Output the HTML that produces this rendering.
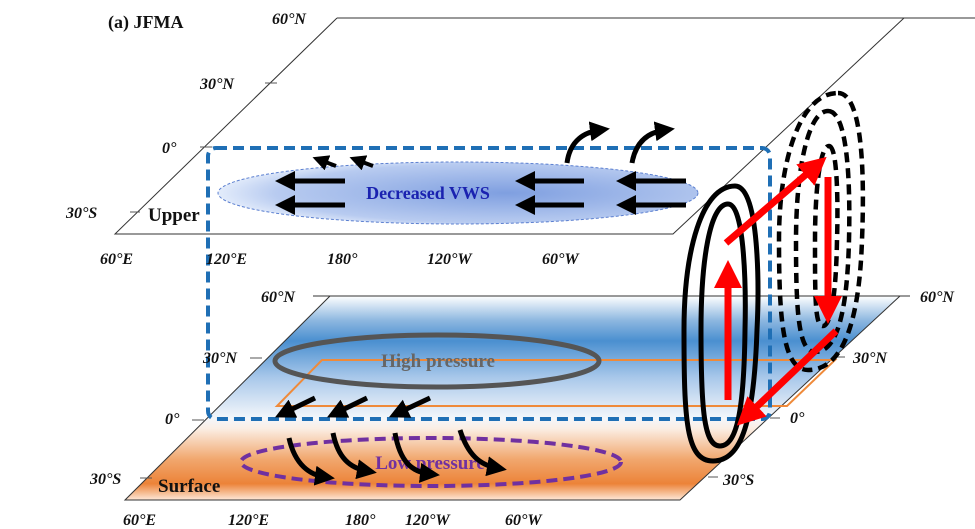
<!DOCTYPE html>
<html><head><meta charset="utf-8"><style>
html,body{margin:0;padding:0;background:#fff}
svg{display:block}
.lab{font-family:"Liberation Serif",serif;font-style:italic;font-weight:bold;font-size:16px;fill:#111}
</style></head><body>
<svg width="975" height="529" viewBox="0 0 975 529" xmlns="http://www.w3.org/2000/svg">
<defs>
<linearGradient id="surf" x1="0" y1="296" x2="0" y2="500" gradientUnits="userSpaceOnUse">
<stop offset="0" stop-color="#ffffff"/>
<stop offset="0.12" stop-color="#8db7e0"/>
<stop offset="0.22" stop-color="#4a8fd0"/>
<stop offset="0.4" stop-color="#a9c8ea"/>
<stop offset="0.6" stop-color="#f4f7fb"/>
<stop offset="0.65" stop-color="#fbeee4"/>
<stop offset="0.8" stop-color="#f1a76e"/>
<stop offset="0.92" stop-color="#ec8338"/>
<stop offset="1" stop-color="#fde8d8"/>
</linearGradient>
<radialGradient id="vws" cx="0.6" cy="0.5" r="0.6">
<stop offset="0" stop-color="#7f9fe0"/>
<stop offset="0.8" stop-color="#b8cbf0"/>
<stop offset="1" stop-color="#e3ecfb"/>
</radialGradient>
<marker id="ah" markerWidth="4" markerHeight="4" refX="2" refY="2" orient="auto"><path d="M0,0 L4,2 L0,4 Z" fill="#000"/></marker>
<marker id="rh" markerWidth="4" markerHeight="4" refX="2" refY="2" orient="auto"><path d="M0,0 L4,2 L0,4 Z" fill="#f00"/></marker>
</defs>

<!-- upper plane -->
<path d="M337,18 H975 M337,18 L115,234 H673 L904,18" fill="none" stroke="#333" stroke-width="1"/>
<g stroke="#555" stroke-width="1">
<line x1="130" y1="212" x2="140" y2="212"/><line x1="200" y1="147" x2="212" y2="147"/><line x1="265" y1="83" x2="277" y2="83"/>
</g>
<ellipse cx="458" cy="193" rx="240" ry="31" fill="url(#vws)" stroke="#5b7fd0" stroke-width="1" stroke-dasharray="3,2"/>

<!-- surface plane -->
<path d="M330,296 H900 L680,500 H125 Z" fill="url(#surf)"/>
<path d="M313,296 H910 M330,296 L125,500 H680 L900,296" fill="none" stroke="#333" stroke-width="1"/>
<g stroke="#555" stroke-width="1">
<line x1="250" y1="358" x2="262" y2="358"/><line x1="192" y1="420" x2="204" y2="420"/><line x1="140" y1="478" x2="152" y2="478"/>
<line x1="845" y1="357" x2="835" y2="357"/><line x1="780" y1="418" x2="770" y2="418"/><line x1="718" y1="477" x2="708" y2="477"/>
</g>

<!-- orange parallelogram -->
<path d="M322,360 H835 L787,406 H277 Z" fill="none" stroke="#ef8a3a" stroke-width="2"/>

<!-- high pressure -->
<ellipse cx="437" cy="361" rx="162" ry="26" fill="none" stroke="#555" stroke-width="5"/>
<text x="438" y="367" text-anchor="middle" font-family="Liberation Serif,serif" font-weight="bold" font-size="19" fill="#666">High pressure</text>

<!-- low pressure -->
<ellipse cx="431" cy="462" rx="190" ry="24" fill="none" stroke="#7030a0" stroke-width="4" stroke-dasharray="11,6"/>
<text x="430" y="469" text-anchor="middle" font-family="Liberation Serif,serif" font-weight="bold" font-size="19" fill="#7030a0">Low pressure</text>

<!-- blue dashed rect -->
<rect x="208" y="148" width="562" height="271" rx="8" fill="none" stroke="#1f6fb5" stroke-width="4" stroke-dasharray="11,6"/>

<!-- upper arrows -->
<g stroke="#000" stroke-width="5" fill="none" marker-end="url(#ah)">
<line x1="345" y1="181" x2="285" y2="181"/><line x1="345" y1="205" x2="285" y2="205"/>
<line x1="584" y1="181" x2="525" y2="181"/><line x1="584" y1="205" x2="525" y2="205"/>
<line x1="686" y1="181" x2="626" y2="181"/><line x1="686" y1="205" x2="626" y2="205"/>
<line x1="336" y1="166" x2="320" y2="160" stroke-width="4"/><line x1="373" y1="166" x2="357" y2="160" stroke-width="4"/>
<path d="M567,163 C570,140 585,132 600,130"/><path d="M632,163 C636,140 650,132 665,130"/>
</g>
<text x="428" y="199" text-anchor="middle" font-family="Liberation Serif,serif" font-weight="bold" font-size="18" fill="#1a22b0">Decreased VWS</text>

<!-- surface arrows -->
<g stroke="#000" stroke-width="5" fill="none" marker-end="url(#ah)">
<line x1="315" y1="398" x2="284" y2="413"/><line x1="367" y1="398" x2="336" y2="413"/><line x1="430" y1="398" x2="398" y2="413"/>
<path d="M289,438 C295,465 310,475 325,477"/><path d="M333,433 C338,458 350,468 367,471"/>
<path d="M395,433 C400,462 412,472 430,474"/><path d="M460,430 C468,455 480,465 497,468"/>
</g>

<!-- loops -->
<g fill="none" stroke="#000" stroke-width="5">
<path d="M735,186 C760,186 759,290 757,330 C754,420 742,461 713,461 C686,461 684,420 684,330 C684,250 702,186 735,186 Z"/>
<path d="M728,204 C745,204 746,290 745,330 C744,410 737,446 720,446 C704,446 701,410 701,330 C701,260 710,204 728,204 Z"/>
</g>
<g fill="none" stroke="#000" stroke-width="4.5" stroke-dasharray="10,6">
<path d="M838,93 C865,93 864,190 862,240 C859,330 840,370 808,370 C783,370 779,320 779,240 C779,160 800,93 838,93 Z"/>
<path d="M828,111 C850,111 850,200 849,240 C847,320 835,352 815,352 C798,352 796,310 796,240 C796,170 808,111 828,111 Z"/>
<path d="M829,146 C838,146 838,210 837,240 C836,300 830,326 823,326 C815,326 815,300 815,240 C815,190 820,146 829,146 Z"/>
</g>
<g stroke="#f00" stroke-width="7" fill="none" marker-end="url(#rh)">
<line x1="726" y1="243" x2="816" y2="166"/>
<line x1="728" y1="400" x2="728" y2="274"/>
<line x1="828" y1="177" x2="828" y2="310"/>
<line x1="836" y1="331" x2="747" y2="416"/>
</g>

<!-- labels -->
<text x="108" y="28" font-family="Liberation Serif,serif" font-weight="bold" font-size="18" fill="#111">(a) JFMA</text>
<text x="148" y="221" font-family="Liberation Serif,serif" font-weight="bold" font-size="19" fill="#111">Upper</text>
<text x="158" y="492" font-family="Liberation Serif,serif" font-weight="bold" font-size="19" fill="#111">Surface</text>
<g class="lab">
<text x="272" y="24">60°N</text><text x="200" y="89">30°N</text><text x="162" y="153">0°</text><text x="66" y="218">30°S</text>
<text x="100" y="264">60°E</text><text x="206" y="264">120°E</text><text x="327" y="264">180°</text><text x="427" y="264">120°W</text><text x="542" y="264">60°W</text>
<text x="261" y="302">60°N</text><text x="203" y="363">30°N</text><text x="165" y="424">0°</text><text x="90" y="484">30°S</text>
<text x="123" y="525">60°E</text><text x="228" y="525">120°E</text><text x="345" y="525">180°</text><text x="405" y="525">120°W</text><text x="505" y="525">60°W</text>
<text x="920" y="302">60°N</text><text x="853" y="363">30°N</text><text x="790" y="423">0°</text><text x="723" y="485">30°S</text>
</g>
</svg>
</body></html>
